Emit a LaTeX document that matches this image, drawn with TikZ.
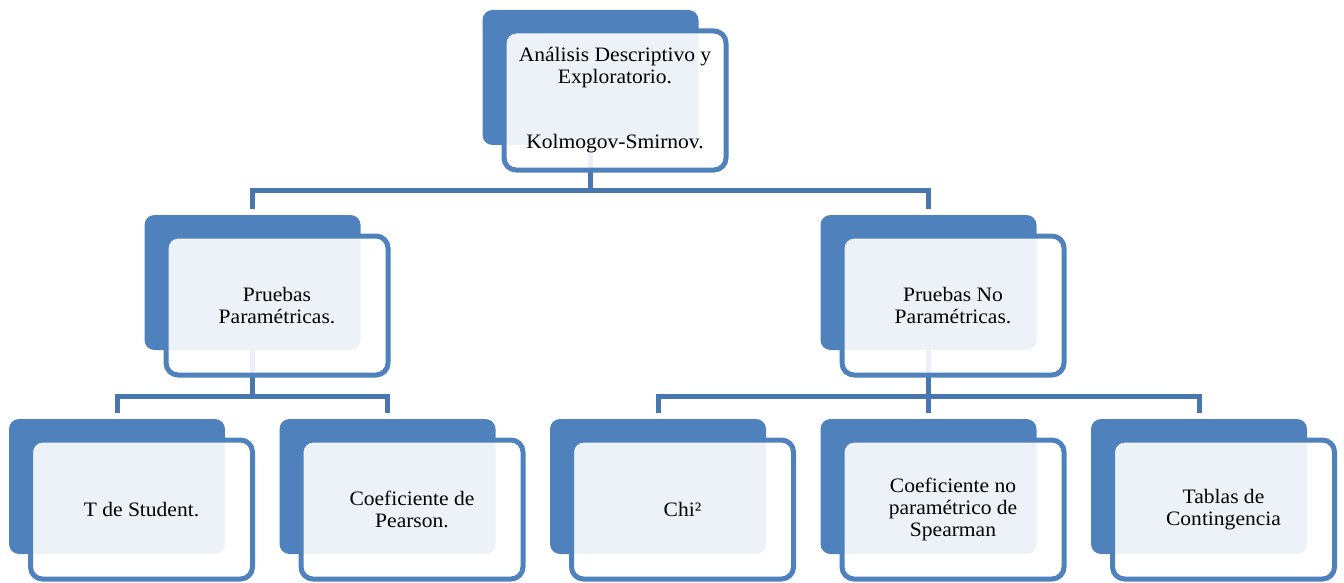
\documentclass[tikz,border=0pt]{standalone}
\usepackage{fontspec}
\setmainfont{Liberation Serif}[FakeStretch=1.05]
\usetikzlibrary{backgrounds}
\definecolor{acc}{HTML}{4F81BD}
\definecolor{conncol}{HTML}{4877B0}
\tikzset{
  backbox/.style={fill=acc, draw=none, rounded corners=10pt, minimum width=216pt,
    minimum height=135pt, inner sep=0pt, outer sep=0pt, anchor=north west},
  frontbox/.style={draw=acc, line width=5pt, fill=white, fill opacity=0.9,
    text opacity=1, rounded corners=12pt, minimum width=222pt, minimum height=139pt,
    inner sep=0pt, outer sep=0pt, anchor=north west, align=center,
    font=\fontsize{20.5}{22}\selectfont},
  conn/.style={draw=conncol, line width=5pt}
}
\newcommand\orgitem[4]{%
  \node[backbox] (#1b) at (#2,#3) {};
  \node[frontbox] (#1) at ({#2+21.5},{#3+21}) {#4};
}
\begin{document}
\begin{tikzpicture}[x=1pt,y=-1pt]
\useasboundingbox (0,0) rectangle (1344,583);
\orgitem{a}{482.5}{10}{Análisis Descriptivo y\\Exploratorio.\\[43pt]Kolmogov-Smirnov.}
\orgitem{b}{144.5}{215}{Pruebas\\Paramétricas.}
\orgitem{c}{820.5}{215}{Pruebas No\\Paramétricas.}
\orgitem{d}{9}{419}{T de Student.}
\orgitem{e}{279.5}{419}{Coeficiente de\\Pearson.}
\orgitem{f}{550}{419}{Chi²}
\orgitem{g}{820.5}{419}{Coeficiente no\\paramétrico de\\Spearman}
\orgitem{h}{1091}{419}{Tablas de\\Contingencia}
\begin{scope}[on background layer]
  \coordinate (j1) at (590.5,190);
  \coordinate (j2) at (252.5,396);
  \coordinate (j3) at (928.5,396);
  \draw[conn] (ab.south) -- (j1);
  \draw[conn] ([yshift=6pt]bb.north) |- (j1) -| ([yshift=6pt]cb.north);
  \draw[conn] (bb.south) -- (j2);
  \draw[conn] ([yshift=6pt]db.north) |- (j2) -| ([yshift=6pt]eb.north);
  \draw[conn] (cb.south) -- (j3);
  \draw[conn] ([yshift=6pt]fb.north) |- (j3) -| ([yshift=6pt]hb.north);
  \draw[conn] (j3) -- ([yshift=6pt]gb.north);
\end{scope}
\end{tikzpicture}
\end{document}
